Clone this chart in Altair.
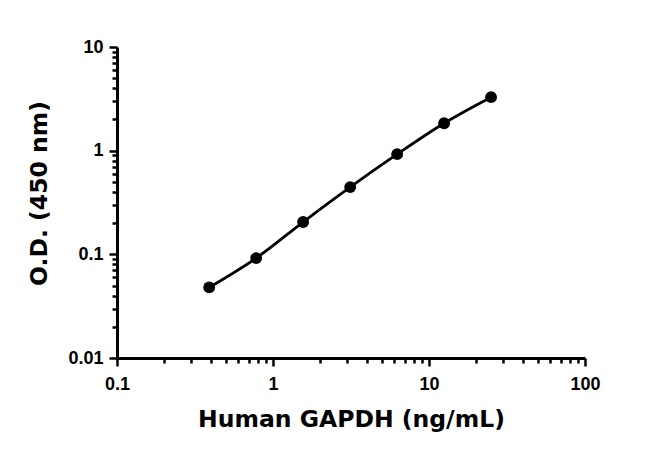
import altair as alt
import pandas as pd

conc = [0.39, 0.78, 1.56, 3.125, 6.25, 12.5, 25.0]
od = [0.048, 0.092, 0.205, 0.445, 0.925, 1.84, 3.28]

x_ticks = [m * 10 ** e for e in (-1, 0, 1) for m in range(1, 10)] + [100]
y_ticks = [m * 10 ** e for e in (-2, -1, 0) for m in range(1, 10)] + [10]

df = pd.DataFrame({"conc": conc, "od": od})

TFONT = "DejaVu Sans"
LFONT = "Liberation Sans"
major_test = "abs(log(datum.value)/LN10 - round(log(datum.value)/LN10)) < 1e-6"

common = dict(
    labelExpr=f"({major_test}) ? format(datum.value, '~g') : ''",
    tickSize={"condition": {"test": major_test, "value": 8}, "value": 5},
    tickWidth=2.5,
    tickColor="black",
    domainColor="black",
    domainWidth=3,
    labelFont=LFONT,
    labelFontWeight="bold",
    labelFontSize=18,
    labelColor="black",
    titleFont=TFONT,
    titleFontWeight="bold",
    titleFontSize=23.5,
    titleColor="black",
    grid=False,
    labelFlush=False,
    labelOverlap=False,
)

x_enc = alt.X(
    "conc:Q",
    scale=alt.Scale(type="log", domain=[0.1, 100], nice=False),
    axis=alt.Axis(
        values=x_ticks,
        title="Human GAPDH (ng/mL)",
        labelPadding=9,
        titlePadding=14,
        **common,
    ),
)
y_enc = alt.Y(
    "od:Q",
    scale=alt.Scale(type="log", domain=[0.01, 10], nice=False),
    axis=alt.Axis(
        values=y_ticks,
        title="O.D. (450 nm)",
        labelPadding=6,
        titleX=-66,
        titleY=146,
        **common,
    ),
)

line = alt.Chart(df).mark_line(color="black", strokeWidth=2.8, interpolate="monotone").encode(x=x_enc, y=y_enc)
pts = alt.Chart(df).mark_circle(color="black", size=140, opacity=1).encode(x=x_enc, y=y_enc)

chart = (
    alt.layer(line, pts)
    .properties(
        width=468,
        height=311,
        background="white",
        autosize=alt.AutoSizeParams(type="none"),
        padding={"left": 109, "top": 39, "right": 50, "bottom": 80},
    )
    .configure_view(strokeWidth=0, stroke="transparent")
)

chart.save("out.html", embed_options={"renderer": "svg", "actions": False})
